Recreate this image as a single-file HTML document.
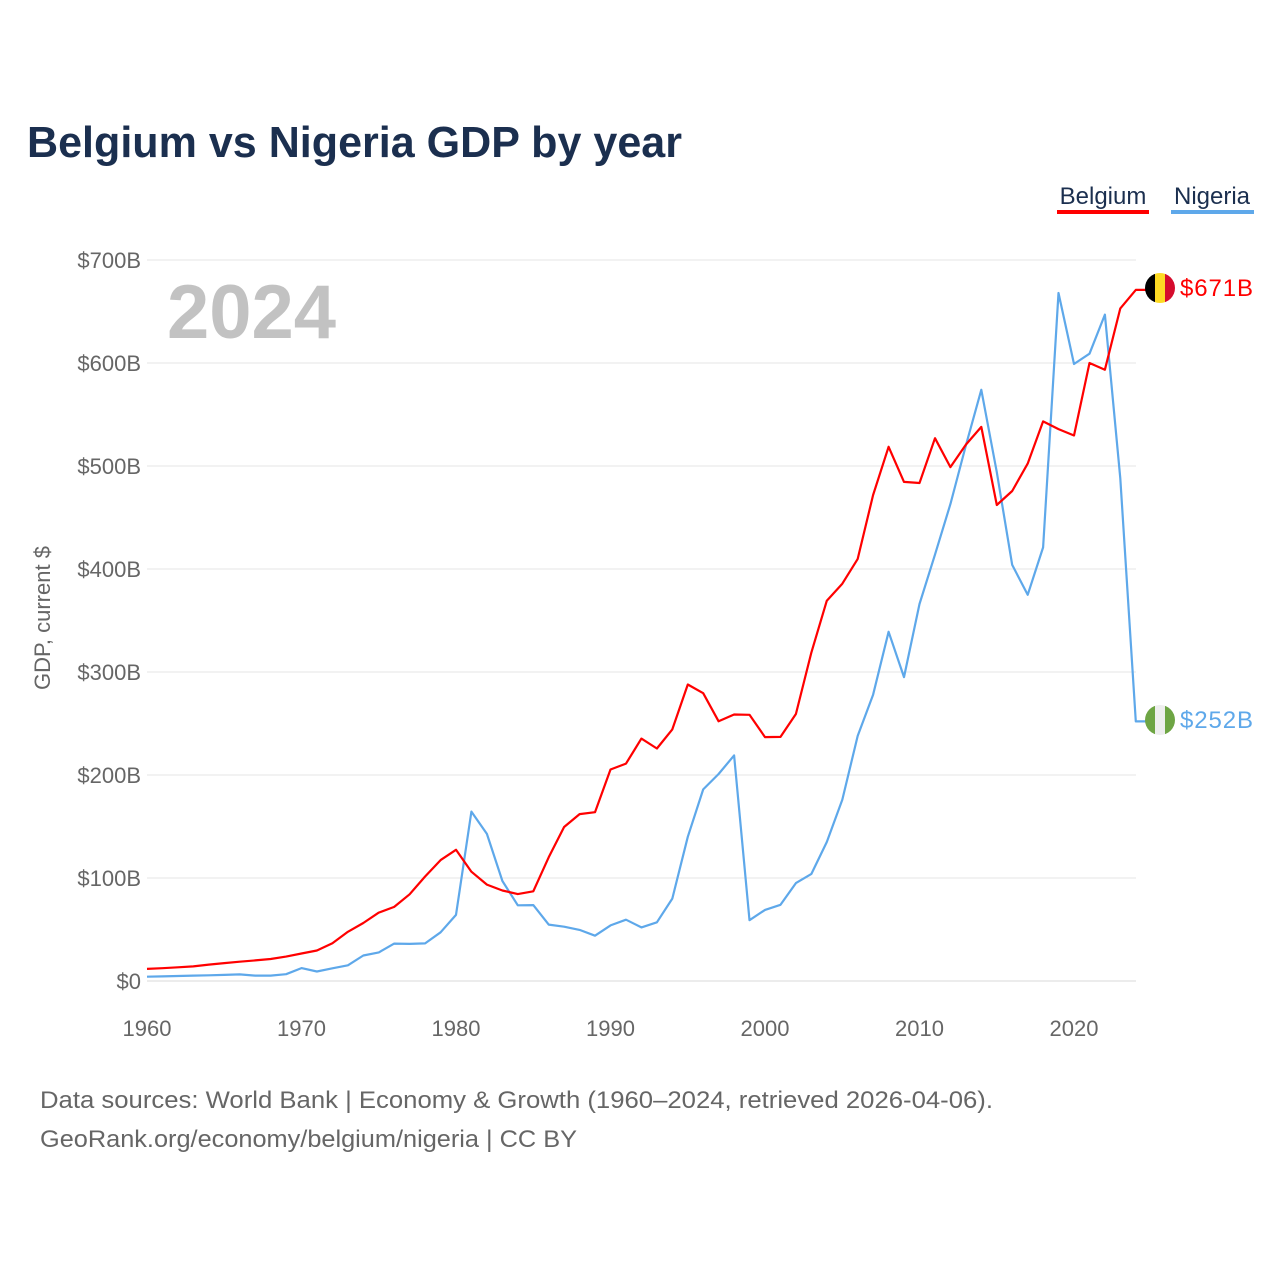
<!DOCTYPE html>
<html><head><meta charset="utf-8"><style>
body{margin:0;background:#fff;width:1280px;height:1280px;overflow:hidden;font-family:"Liberation Sans",sans-serif}
</style></head><body>
<svg width="1280" height="1280" xmlns="http://www.w3.org/2000/svg" font-family="Liberation Sans, sans-serif">
<text x="27" y="157" font-size="44" font-weight="bold" fill="#1b2f4f" textLength="655" lengthAdjust="spacingAndGlyphs">Belgium vs Nigeria GDP by year</text>
<g>
<text x="1103" y="204" font-size="24" fill="#1b2f4f" text-anchor="middle">Belgium</text>
<rect x="1057" y="210" width="92" height="4" fill="#ff0000"/>
<text x="1212" y="204" font-size="24" fill="#1b2f4f" text-anchor="middle">Nigeria</text>
<rect x="1171" y="210" width="83" height="4" fill="#5ea8ea"/>
</g>
<text x="167" y="338" font-size="76" font-weight="bold" fill="#c2c2c2">2024</text>
<text transform="translate(50,618) rotate(-90)" font-size="22" fill="#666" text-anchor="middle">GDP, current $</text>
<g id="grid"></g><g id="xt"></g><g id="lines"></g>
<g>
<defs><clipPath id="cb"><circle cx="1160" cy="288" r="15"/></clipPath><clipPath id="cn"><circle cx="1160" cy="720" r="15"/></clipPath></defs>
<g clip-path="url(#cb)"><rect x="1145" y="273" width="10" height="30" fill="#000"/><rect x="1155" y="273" width="10" height="30" fill="#fdda24"/><rect x="1165" y="273" width="10" height="30" fill="#d50c2d"/></g>
<g clip-path="url(#cn)"><rect x="1145" y="705" width="10" height="30" fill="#6ea544"/><rect x="1155" y="705" width="10" height="30" fill="#eee"/><rect x="1165" y="705" width="10" height="30" fill="#6ea544"/></g>
<text x="1180" y="296" font-size="24" fill="#ff0000" textLength="73">$671B</text>
<text x="1180" y="728" font-size="24" fill="#5ea8ea" textLength="73">$252B</text>
</g>
<text x="40" y="1108" font-size="24" fill="#666" textLength="953" lengthAdjust="spacingAndGlyphs">Data sources: World Bank | Economy &amp; Growth (1960–2024, retrieved 2026-04-06).</text>
<text x="40" y="1147" font-size="24" fill="#666" textLength="537" lengthAdjust="spacingAndGlyphs">GeoRank.org/economy/belgium/nigeria | CC BY</text>
</svg>
<script>
const years=[];for(let y=1960;y<=2024;y++)years.push(y);
const belgium=[11.7,12.4,13.3,14.2,15.9,17.4,18.7,20.0,21.4,23.7,26.7,29.6,36.6,47.8,56.3,66.4,71.9,84.2,101.5,117.4,127.4,106.1,93.6,87.9,84.4,87.1,120.1,149.5,162.0,163.9,205.3,211.1,235.3,225.7,244.3,287.9,279.4,252.1,258.7,258.4,236.8,237.0,259.2,319.0,369.2,385.7,409.8,471.8,518.6,484.6,483.5,527.0,498.9,520.8,538.0,462.1,475.7,502.3,543.3,535.8,529.6,600.0,593.5,653,671];
const nigeria=[4.2,4.5,4.9,5.2,5.5,5.9,6.4,5.2,5.2,6.6,12.5,9.2,12.3,15.2,24.8,27.8,36.3,36.0,36.5,47.3,64.2,164.5,142.8,97.1,73.5,73.7,54.8,52.7,49.6,44.0,54.0,59.5,52.0,57.0,80.0,140.0,186.0,201.0,219.0,59.0,69.0,74.0,95.0,104.0,135.0,176.0,238.0,278.0,339.0,295.0,366.0,414.0,463.0,520.0,574.0,494.0,404.0,375.0,421.0,668.0,599.0,609.0,647.0,488.0,252.0];
const yTicks=[0,100,200,300,400,500,600,700];
const yTickLabels=["$0","$100B","$200B","$300B","$400B","$500B","$600B","$700B"];
const xTicks=[1960,1970,1980,1990,2000,2010,2020];
const NS="http://www.w3.org/2000/svg";
const X=y=>147+(y-1960)*(1074-147)/60;
const Y=v=>981-v*(981-260)/700;
function mk(t,a,p){const e=document.createElementNS(NS,t);for(const k in a)e.setAttribute(k,a[k]);p.appendChild(e);return e;}
const grid=document.getElementById('grid');
yTicks.forEach((v,i)=>{
 const l=mk('line',{x1:147,x2:1136,y1:Y(v),y2:Y(v),stroke:v===0?'#d8d8d8':'#e6e6e6','stroke-width':1},grid);
 
 
 const t=mk('text',{x:141,y:Y(v)+8,'font-size':22,fill:'#666','text-anchor':'end'},grid);
 t.textContent=yTickLabels[i];
 
 
});
const xt=document.getElementById('xt');
xTicks.forEach(y=>{
 const t=mk('text',{x:X(y),y:1036,'font-size':22,fill:'#666','text-anchor':'middle'},xt);
 t.textContent=y;
 
 
});
const lines=document.getElementById('lines');
function draw(vals,color,name){
 let d=vals.map((v,i)=>(i?'L':'M')+X(years[i]).toFixed(1)+','+Y(v).toFixed(1)).join(' ');
 d+=' L'+(X(years[years.length-1])+10).toFixed(1)+','+Y(vals[vals.length-1]).toFixed(1);
 const p=mk('path',{d:d,fill:'none',stroke:color,'stroke-width':2.2,'stroke-linejoin':'round'},lines);
 
 
}
draw(nigeria,'#5ea8ea','nigeria-line');
draw(belgium,'#ff0000','belgium-line');
</script>
</body></html>
